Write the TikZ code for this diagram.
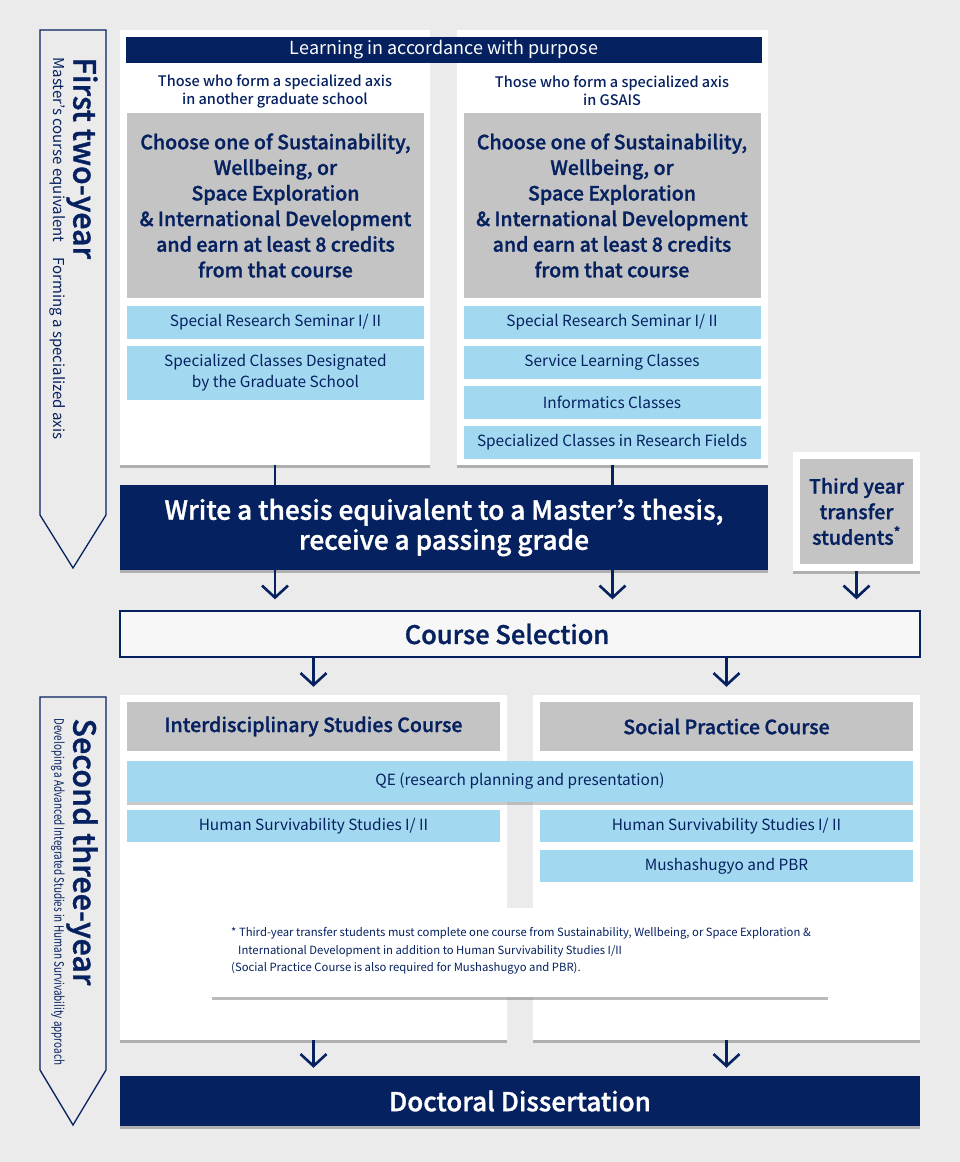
\documentclass[tikz,border=0pt]{standalone}
\usepackage{fontspec}
\setmainfont{Noto Sans CJK JP}[BoldFont={Noto Sans CJK JP Medium},BoldFeatures={FakeBold=1.2}]
\newfontfamily\mediumfont{Noto Sans CJK JP Medium}
\usetikzlibrary{arrows.meta,shadows}
\definecolor{navy}{RGB}{6,33,96}
\definecolor{bggray}{RGB}{235,235,235}
\definecolor{boxgray}{RGB}{196,196,196}
\definecolor{lblue}{RGB}{162,217,240}
\begin{document}
\begin{tikzpicture}[x=1pt,y=-1pt,
	panel/.style={fill=white,inner sep=0pt,drop shadow={shadow xshift=0pt,shadow yshift=-3pt,opacity=.45,fill=black!60}},
	navybox/.style={fill=navy,text=white,align=center,inner sep=0pt,drop shadow={shadow xshift=0pt,shadow yshift=-3pt,opacity=.45,fill=black!60}},
	graybox/.style={fill=boxgray,text=navy,align=center,inner sep=0pt,font=\bfseries\fontsize{19.6}{25.6}\selectfont},
	bluebox/.style={fill=lblue,text=navy,align=center,inner sep=0pt,font=\fontsize{15.4}{21}\selectfont},
	arr/.style={draw=navy,line width=2.6pt,-{Straight Barb[length=12pt,width=26pt]}}]
	\fill[bggray](0,0) rectangle (960,1162);
	\useasboundingbox (0,0) rectangle (960,1162);
	\draw[navy,line width=1.3pt,fill=bggray](40,30)--(106,30)--(106,515)--(73,568)--(40,515)--cycle;
	\node[rotate=-90,anchor=west,text=navy,font=\bfseries\fontsize{30.5}{32}\selectfont] (firsttitle) at (82,54) {First two-year};
	\node[rotate=-90,anchor=west,text=navy,font=\fontsize{15}{17}\selectfont] (firstsub) at (58,54) {Master's course equivalent\quad Forming a specialized axis};
	\draw[navy,line width=1.3pt,fill=bggray](40,697)--(106,697)--(106,1070)--(73,1125)--(40,1070)--cycle;
	\node[rotate=-90,anchor=west,text=navy,font=\bfseries\fontsize{30.5}{32}\selectfont] (secondtitle) at (82,715) {Second three-year};
	\node[rotate=-90,anchor=west,text=navy,font=\fontsize{13}{15}\selectfont] (secondsub) at (58,715) {\scalebox{.76}[1]{Developing a Advanced Integrated Studies in Human Survivability approach}};
	\node[panel,minimum width=310pt,minimum height=435pt] (pleft) at (275,247.5) {};
	\node[panel,minimum width=311pt,minimum height=435pt] (pright) at (612.5,247.5) {};
	\node[fill=navy,text=white,inner sep=0pt,minimum width=636pt,minimum height=26pt,font=\fontsize{18}{20}\selectfont] (purpose) at (444,50) {\raisebox{-1.5pt}{Learning in accordance with purpose}};
	\node[text=navy,align=center,font=\mediumfont\fontsize{14.5}{18}\selectfont] (subleft) at (275,91) {Those who form a specialized axis\\in another graduate school};
	\node[text=navy,align=center,font=\mediumfont\fontsize{14.5}{18}\selectfont] (subright) at (612,91) {Those who form a specialized axis\\in GSAIS};
	\node[graybox,minimum width=297pt,minimum height=185pt] (chooseleft) at (275.5,205.5) {Choose one of Sustainability,\\Wellbeing, or\\Space Exploration\\\& International Development\\and earn at least 8 credits\\from that course};
	\node[graybox,minimum width=297pt,minimum height=185pt] (chooseright) at (612,205.5) {Choose one of Sustainability,\\Wellbeing, or\\Space Exploration\\\& International Development\\and earn at least 8 credits\\from that course};
	\node[bluebox,minimum width=297pt,minimum height=33pt] (seminarleft) at (275.5,322.5) {Special Research Seminar I/ II};
	\node[bluebox,minimum width=297pt,minimum height=54pt] (designated) at (275.5,373) {Specialized Classes Designated\\by the Graduate School};
	\node[bluebox,minimum width=297pt,minimum height=33pt] (seminarright) at (612,322.5) {Special Research Seminar I/ II};
	\node[bluebox,minimum width=297pt,minimum height=33pt] (service) at (612,362.5) {Service Learning Classes};
	\node[bluebox,minimum width=297pt,minimum height=33pt] (informatics) at (612,402.5) {Informatics Classes};
	\node[bluebox,minimum width=297pt,minimum height=33pt] (fields) at (612,442.5) {Specialized Classes in Research Fields};
	\node[navybox,minimum width=648pt,minimum height=85pt,font=\bfseries\fontsize{26.3}{30}\selectfont] (thesis) at (444,527.5) {Write a thesis equivalent to a Master's thesis,\\receive a passing grade};
	\draw[navy,line width=2.6pt](pleft.south)--(pleft.south|-thesis.north);
	\draw[navy,line width=2.6pt](pright.south)--(pright.south|-thesis.north);
	\node[panel,minimum width=127pt,minimum height=119pt] (thirdpanel) at (856.5,511.5) {};
	\node[graybox,minimum width=113pt,minimum height=105pt] (third) at (856.5,511.5) {Third year\\transfer\\students\textsuperscript{*}};
	\node[draw=navy,line width=1.3pt,fill=bggray!40!white,text=navy,minimum width=800pt,minimum height=46pt,inner sep=0pt,font=\bfseries\fontsize{25.5}{28}\selectfont] (selection) at (520,634) {Course Selection\hspace*{26pt}};
	\draw[arr,shorten >=11pt](thesis.south-|pleft.south)--(selection.north-|pleft.south);
	\draw[arr,shorten >=11pt](thesis.south-|pright.south)--(selection.north-|pright.south);
	\draw[arr,shorten >=11pt](thirdpanel.south)--(selection.north-|thirdpanel.south);
	\node[panel,minimum width=387pt,minimum height=345pt] (interpanel) at (313.5,867.5) {};
	\node[panel,minimum width=387pt,minimum height=345pt] (socialpanel) at (726.5,867.5) {};
	\draw[arr,shorten >=8pt](selection.south-|interpanel.north)--(interpanel.north);
	\draw[arr,shorten >=8pt](selection.south-|socialpanel.north)--(socialpanel.north);
	\node[graybox,minimum width=373pt,minimum height=49pt] (inter) at (313.5,726.5) {Interdisciplinary Studies Course};
	\node[graybox,minimum width=373pt,minimum height=49pt] (social) at (726.5,726.5) {Social Practice Course};
	\node[bluebox,minimum width=786pt,minimum height=41pt,drop shadow={shadow xshift=0pt,shadow yshift=-3pt,opacity=.35,fill=black!60}] (qe) at (520,781.5) {QE (research planning and presentation)};
	\node[bluebox,minimum width=373pt,minimum height=32pt] (hssleft) at (313.5,826) {Human Survivability Studies I/ II};
	\node[bluebox,minimum width=373pt,minimum height=32pt] (hssright) at (726.5,826) {Human Survivability Studies I/ II};
	\node[bluebox,minimum width=373pt,minimum height=32pt] (musha) at (726.5,866) {Mushashugyo and PBR};
	\node[panel,minimum width=616pt,minimum height=89pt] (notebox) at (520,952.5) {};
	\node[anchor=west,text=navy,align=left,inner sep=0pt,font=\fontsize{11.3}{17.5}\selectfont] (note) at (231,951) {* Third-year transfer students must complete one course from Sustainability, Wellbeing, or Space Exploration \&\\\hspace*{7pt}International Development in addition to Human Survivability Studies I/II\\(Social Practice Course is also required for Mushashugyo and PBR).};
	\node[navybox,minimum width=800pt,minimum height=50pt,font=\bfseries\fontsize{26}{30}\selectfont] (doctoral) at (520,1101) {Doctoral Dissertation};
	\draw[arr,shorten >=8pt](interpanel.south)--(doctoral.north-|interpanel.south);
	\draw[arr,shorten >=8pt](socialpanel.south)--(doctoral.north-|socialpanel.south);
\end{tikzpicture}
\end{document}
